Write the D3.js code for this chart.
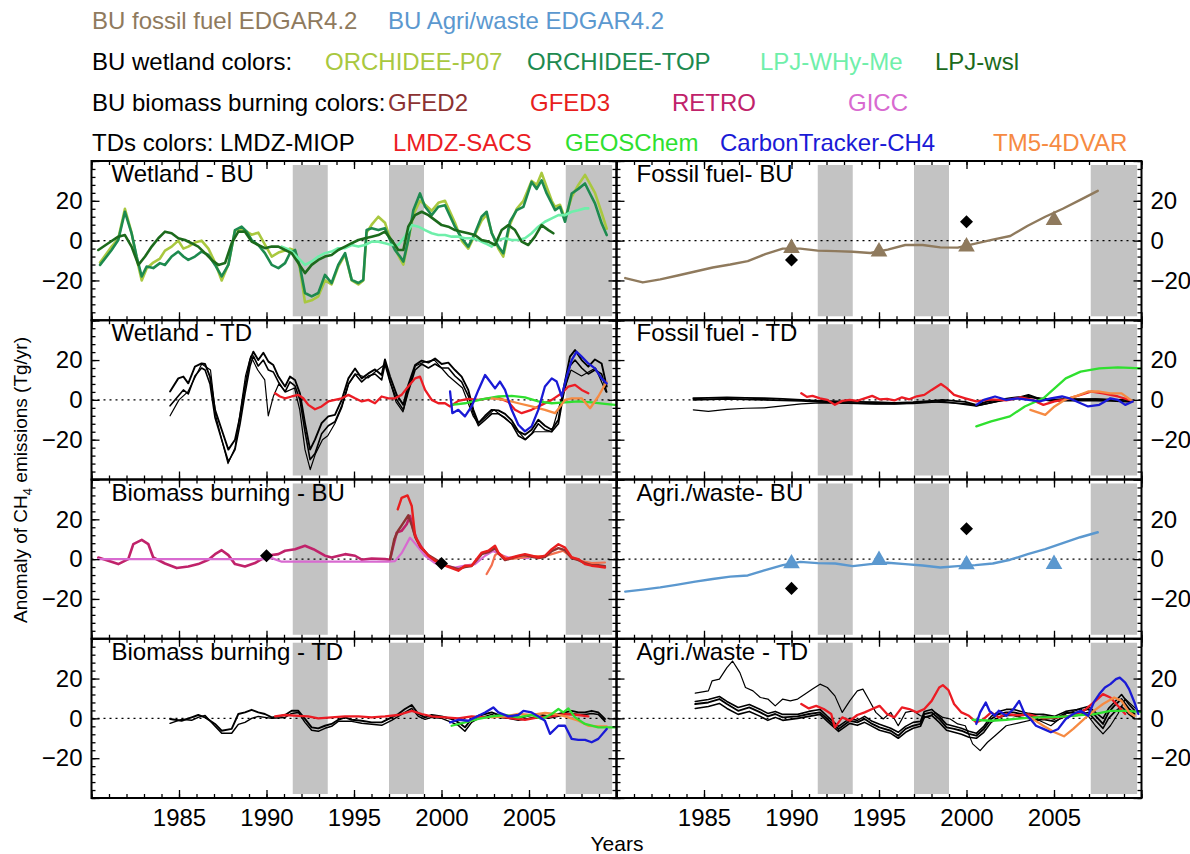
<!DOCTYPE html>
<html><head><meta charset="utf-8">
<script src="https://cdn.jsdelivr.net/npm/d3@7"></script>
<style>
body{margin:0;background:#fff}
svg{display:block;font-family:"Liberation Sans",Arial,Helvetica,sans-serif}
</style>
</head><body>
<svg id="chart" width="1190" height="854"></svg>
<script>
// ---------- data: [year, anomaly Tg/yr] ----------
// Wetland - BU
const wetBuP07 = [[1980.49,-11],[1981.15,-3],[1981.53,1],[1981.91,16],[1982.29,4],[1982.58,-9],[1982.87,-20],[1983.15,-14],[1983.53,-11],[1983.91,-9],[1984.2,-5],[1984.58,-3],[1984.96,0],[1985.25,-4],[1985.53,-3],[1985.91,-1],[1986.29,0],[1986.68,-4],[1987.06,-11],[1987.44,-20],[1987.82,-12],[1988.2,5],[1988.58,6],[1988.87,4.5],[1989.15,3],[1989.53,4],[1989.91,-2],[1990.3,-8],[1990.68,-6],[1991.06,-5],[1991.34,-4],[1991.63,-5],[1991.91,-14],[1992.2,-31],[1992.58,-30],[1992.96,-28],[1993.34,-20],[1993.72,-22],[1994.1,-13],[1994.49,-7],[1994.87,-20],[1995.25,-22],[1995.53,-20],[1995.72,4],[1996.01,8],[1996.39,12],[1996.77,9],[1997.06,1],[1997.34,-4],[1997.63,-9],[1997.82,-12],[1998.1,0],[1998.39,13],[1998.77,20],[1999.06,18],[1999.44,15],[1999.82,19],[2000.2,20],[2000.77,9],[2001.15,0],[2001.53,-4],[2001.91,3],[2002.29,10],[2002.58,13],[2002.87,4],[2003.25,-4],[2003.53,-8],[2003.91,8],[2004.3,16],[2004.68,20],[2005.15,30],[2005.44,28],[2005.72,34],[2006.01,27],[2006.3,20],[2006.49,17],[2006.77,18],[2007.06,11],[2007.44,22],[2007.82,28],[2008.2,33],[2008.39,30],[2008.77,24],[2009.15,14],[2009.44,6]];
const wetBuTop = [[1980.49,-12.2],[1981.15,-4.7],[1981.53,0.3],[1981.91,14.5],[1982.29,3.7],[1982.58,-8],[1982.87,-18],[1983.15,-13],[1983.53,-13.8],[1983.91,-11.3],[1984.2,-12.2],[1984.58,-8],[1984.96,-5.5],[1985.25,-8],[1985.53,-9.7],[1985.91,-8],[1986.29,-5.5],[1986.68,-7.2],[1987.06,-12.2],[1987.44,-18],[1987.82,-12.2],[1988.2,5.3],[1988.58,7],[1988.87,4.5],[1989.15,0.3],[1989.53,-2.2],[1989.91,-6.3],[1990.3,-12.2],[1990.68,-13.8],[1991.06,-11.3],[1991.34,-6.3],[1991.63,-4.7],[1991.91,-13],[1992.2,-26.3],[1992.58,-28],[1992.96,-26.3],[1993.34,-17.2],[1993.72,-21.3],[1994.1,-12.2],[1994.49,-6.3],[1994.87,-19.7],[1995.25,-21.3],[1995.53,-19.7],[1995.72,5.3],[1996.01,6.2],[1996.39,5.3],[1996.77,6.2],[1997.06,0.3],[1997.34,-4.7],[1997.63,-8],[1997.82,-10.5],[1998.1,0.3],[1998.39,15.3],[1998.77,23.7],[1999.06,17],[1999.44,12.8],[1999.82,17],[2000.2,17.8],[2000.77,7],[2001.15,1.2],[2001.53,-3],[2001.91,3.7],[2002.29,12],[2002.58,14.5],[2002.87,3.7],[2003.25,-3],[2003.53,-6.3],[2003.91,9.5],[2004.3,15.3],[2004.68,17],[2005.15,29.5],[2005.44,26],[2005.72,30.3],[2006.01,23.7],[2006.3,18.7],[2006.49,15.3],[2006.77,17],[2007.06,9.5],[2007.44,23.7],[2007.82,26],[2008.2,28.7],[2008.39,25.3],[2008.77,18.7],[2009.15,8.7],[2009.44,2.8]];
const wetBuWhyme = [[1990.87,-3],[1991.34,-4.7],[1991.82,-8.8],[1992.2,-12.2],[1992.58,-10.5],[1992.96,-8],[1993.34,-6.3],[1993.72,-5.5],[1994.1,-3.8],[1994.49,-3.8],[1994.87,-2.2],[1995.25,-3],[1995.63,-2.2],[1996.01,-0.5],[1996.39,-0.5],[1996.77,-1.3],[1997.15,-2.2],[1997.53,-2.2],[1997.91,2],[1998.3,7.8],[1998.68,7],[1999.06,5.3],[1999.44,3.7],[1999.82,2.8],[2000.2,2.8],[2000.58,2],[2000.96,2],[2001.34,1.2],[2001.72,1.2],[2002.11,0.3],[2002.49,-1.3],[2002.87,-3],[2003.25,0.3],[2003.63,1.2],[2004.01,0.3],[2004.39,0.3],[2004.77,1.2],[2005.15,3.7],[2005.53,7],[2005.91,9.5],[2006.3,11.2],[2006.68,12.8],[2007.06,12.8],[2007.44,14.5],[2007.82,15.3],[2008.2,16.2],[2008.39,16.2]];
const wetBuWsl = [[1980.39,-4.7],[1980.96,-1.3],[1981.53,2],[1981.91,2.8],[1982.29,-3],[1982.68,-12.2],[1983.06,-8],[1983.44,-3],[1983.82,1.2],[1984.2,4.5],[1984.58,3.7],[1984.96,1.2],[1985.34,0.3],[1985.72,-1.3],[1986.1,-3],[1986.49,-6.3],[1986.87,-9.7],[1987.25,-12.2],[1987.63,-11.3],[1988.01,-1.3],[1988.39,4.5],[1988.77,4.5],[1989.15,-0.5],[1989.53,-2.2],[1989.91,-3.8],[1990.3,-3],[1990.68,-3],[1991.06,-4.7],[1991.44,-6.3],[1991.82,-11.3],[1992.2,-16.3],[1992.58,-12.2],[1992.96,-9.7],[1993.34,-8],[1993.72,-7.2],[1994.1,-4.7],[1994.49,-3],[1994.87,-1.3],[1995.25,0.3],[1995.63,1.2],[1996.01,2],[1996.39,2.8],[1996.77,4.5],[1997.15,0.3],[1997.53,-4.7],[1997.82,-4.7],[1998.1,7],[1998.49,12.8],[1998.87,14.5],[1999.25,12.8],[1999.63,10.3],[2000.01,7.8],[2000.39,7],[2000.77,5.3],[2001.15,4.5],[2001.53,3.7],[2001.91,2.8],[2002.29,0.3],[2002.68,-0.5],[2003.06,-2.2],[2003.44,5.3],[2003.82,7.8],[2004.2,5.3],[2004.58,-0.5],[2004.96,-2.2],[2005.34,2],[2005.72,7.8],[2006.11,5.3],[2006.39,3.7]];

// EDGAR4.2 annual values, plotted at mid-year
const edgarYears = [1980.5,1981.5,1982.5,1983.5,1984.5,1985.5,1986.5,1987.5,1988.5,1989.5,1990.5,1991.5,1992.5,1993.5,1994.5,1995.5,1996.5,1997.5,1998.5,1999.5,2000.5,2001.5,2002.5,2003.5,2004.5,2005.5,2006.5,2007.5];
const edgarFossil = [-18.8,-21,-19.5,-17.5,-15.5,-13.5,-12,-10.3,-6.8,-4,-4,-5,-5.3,-5.6,-6.2,-4.5,-2.2,-2.2,-3.4,-3.5,-1.5,0.5,2.3,7.5,12,16,20.5,25];
const edgarAgri = [-16.3,-15.3,-14.2,-12.8,-11.3,-10,-8.8,-8.2,-5.5,-3,-1.4,-2,-2.2,-3.5,-2.5,-1.8,-2.5,-3.2,-4.2,-3.5,-3,-2.2,-0.3,2.5,5,8,11,13.5];
const fossilTriangles = [[1990,-3.8],[1995,-5.5],[2000,-3],[2005,10.3]];
const fossilDiamonds = [[1990,-9.7],[2000,9.5]];
const agriTriangles = [[1990,-2.2],[1995,-0.5],[2000,-2.7],[2005,-2.5]];
const agriDiamonds = [[1990,-14.7],[2000,15.3]];
const bbDiamonds = [[1990,1.7],[2000,-2.2]];

// Wetland - TD
const wetTdMiop1 = [[1984.49,4.2],[1984.96,10.8],[1985.25,11.7],[1985.53,8.3],[1985.91,16.7],[1986.29,18.3],[1986.49,18],[1986.77,11.7],[1987.06,-5],[1987.44,-15],[1987.82,-25],[1988.2,-20],[1988.49,-8.3],[1988.77,6.7],[1989.06,20],[1989.25,24.2],[1989.53,20],[1989.82,23.7],[1990.11,19.2],[1990.39,17.5],[1990.68,11.7],[1991.06,6.7],[1991.34,11.7],[1991.63,10],[1991.91,3.3],[1992.2,-11.7],[1992.49,-25],[1992.77,-20],[1993.15,-11.7],[1993.53,-8.3],[1993.91,-7.5],[1994.3,0],[1994.68,10.8],[1995.06,15.8],[1995.44,10.8],[1995.82,13.3],[1996.2,15.3],[1996.58,12.5],[1996.77,20.3],[1997.06,11.7],[1997.44,2.5],[1997.82,-2.5],[1998.1,7.5],[1998.49,17.5],[1998.87,19.7],[1999.25,18.7],[1999.63,20.8],[2000.01,18],[2000.39,18.7],[2000.77,15],[2001.15,11.7],[2001.53,5],[2001.82,-5],[2002.11,-11.7],[2002.49,-8],[2002.87,-5],[2003.25,-5.3],[2003.63,-7],[2004.01,-10.3],[2004.39,-15.8],[2004.77,-17.5],[2005.15,-15],[2005.53,-10],[2005.91,-13],[2006.3,-15],[2006.68,-10],[2006.96,5],[2007.34,21.7],[2007.63,25],[2008.01,20],[2008.39,16.7],[2008.77,20.3],[2009.15,18.3],[2009.44,6.7]];
const wetTdMiop2 = [[1984.49,-3],[1984.96,2],[1985.25,5],[1985.53,3],[1985.91,12],[1986.29,16],[1986.49,15],[1986.77,8],[1987.06,-9],[1987.44,-20],[1987.82,-31],[1988.2,-25],[1988.49,-12],[1988.77,3],[1989.06,17],[1989.25,22],[1989.53,17],[1989.82,20],[1990.11,15],[1990.39,14],[1990.68,9],[1991.06,4],[1991.34,9],[1991.63,7],[1991.91,0],[1992.2,-16],[1992.49,-30],[1992.77,-27],[1993.15,-17],[1993.53,-13],[1993.91,-11],[1994.3,-3],[1994.68,8],[1995.06,13],[1995.44,9],[1995.82,12],[1996.2,13],[1996.58,10],[1996.77,18],[1997.06,9],[1997.44,0],[1997.82,-5],[1998.1,4],[1998.49,15],[1998.87,18],[1999.25,16],[1999.63,18],[2000.01,16],[2000.39,16],[2000.77,12],[2001.15,9],[2001.53,2],[2001.82,-7],[2002.11,-13],[2002.49,-10],[2002.87,-7],[2003.25,-7],[2003.63,-9],[2004.01,-12],[2004.39,-18],[2004.77,-20],[2005.15,-17],[2005.53,-12],[2005.91,-15],[2006.3,-16],[2006.68,-12],[2006.96,2],[2007.34,17],[2007.63,20],[2008.01,16],[2008.39,13],[2008.77,15],[2009.15,13],[2009.44,4]];
const wetTdMiop3 = [[1984.49,-8],[1985,0],[1985.5,4],[1986.3,18],[1986.8,15],[1987.1,-8],[1987.5,-22],[1987.8,-32],[1988.2,-24],[1988.5,-6],[1988.8,12],[1989.1,22],[1989.5,15],[1989.9,10],[1990.1,-8],[1990.4,2],[1990.7,8],[1991.1,4],[1991.6,6],[1991.9,-5],[1992.2,-25],[1992.5,-35],[1992.8,-27],[1993.2,-20],[1993.5,-18],[1993.9,-12],[1994.3,-4],[1994.7,8],[1995.1,13],[1995.8,11],[1996.2,14],[1996.8,18],[1997.1,8],[1997.4,-1],[1997.8,-6],[1998.1,5],[1998.5,17],[1999,19],[1999.6,20],[2000.4,12],[2001.2,6],[2001.8,-8],[2002.1,-12],[2003,-5],[2004,-12],[2004.8,-20],[2005.3,-16],[2006.3,-16],[2006.9,2],[2007.4,15],[2008,12],[2008.8,16],[2009.4,4]];
const wetTdSacs = [[1990.49,3.3],[1990.77,1.7],[1991.06,0.8],[1991.44,1.7],[1991.82,2.5],[1992.1,0.8],[1992.39,-2.5],[1992.77,-4.7],[1993.15,-3.3],[1993.53,-0.8],[1993.91,0],[1994.3,0.8],[1994.68,2.5],[1995.06,0.8],[1995.44,-0.8],[1995.82,0],[1996.2,-1.7],[1996.58,1.7],[1996.96,0.8],[1997.34,0.8],[1997.72,2.5],[1998.1,6.7],[1998.49,10.8],[1998.77,11.7],[1999.06,5],[1999.44,0],[1999.82,-1.7],[2000.2,-1.7],[2000.49,-3.3],[2000.96,-0.5],[2001.53,0.5],[2002.11,0],[2002.68,0.8],[2003.25,1],[2003.82,-1],[2004.2,-5],[2004.58,-6.7],[2005.15,-5],[2005.72,-2.5],[2006.3,0],[2006.87,3.3],[2007.25,6.7],[2007.63,7.5],[2008.01,5],[2008.39,3.3]];
const wetTdCt = [[2000.49,4.2],[2000.62,-6.7],[2000.96,-5],[2001.34,-8.3],[2001.72,-3.3],[2002.11,5],[2002.49,12.5],[2002.77,9.2],[2003.06,5.8],[2003.34,9.2],[2003.63,5],[2004.01,-5],[2004.39,-12.5],[2004.77,-15.8],[2005.15,-13.3],[2005.53,-5],[2005.91,6.7],[2006.3,10.8],[2006.58,9.2],[2006.87,1.7],[2007.15,11.7],[2007.44,20],[2007.72,24.2],[2008.01,21.7],[2008.39,18.3],[2008.77,15.8],[2009.15,10.8],[2009.44,8.3]];
const wetTdGeos = [[2000.58,-2.5],[2001.34,-1.7],[2002.3,0.3],[2003.25,1.7],[2004.01,2],[2004.77,1.3],[2005.53,-0.8],[2006.3,-1.7],[2007.06,-1.3],[2007.82,-0.8],[2008.58,-1.3],[2009.34,-2],[2009.91,-2.5]];
const wetTdTm5 = [[2002.87,0.8],[2003.63,0],[2004.39,-1.7],[2005.15,-3.3],[2005.91,-5],[2006.49,-6.7],[2007.06,0],[2007.44,0.8],[2008.01,0.8],[2008.49,-4.2],[2008.96,1.7],[2009.44,9.2]];

// Biomass burning - BU
const bbRetro = [[1980.39,0.8],[1980.96,-0.8],[1981.53,-2.5],[1982.1,0],[1982.39,7.5],[1982.87,9.7],[1983.25,7.5],[1983.53,0.8],[1984.2,-2.2],[1984.87,-4.5],[1985.53,-3.7],[1986.1,-2.5],[1986.68,-0.3],[1987.06,2.5],[1987.44,4.5],[1987.82,2],[1988.2,-2.5],[1988.77,-3.7],[1989.34,-2],[1989.72,0],[1990.01,1.7],[1990.68,2.5],[1991.06,4.2],[1991.63,5],[1992.2,6.7],[1992.68,5],[1993.34,1.7],[1993.72,0.8],[1994.49,2.5],[1995.06,1.7],[1995.44,-0.3],[1996.01,0.3],[1996.77,0],[1997.06,-0.3],[1997.25,6.7],[1997.44,13.3],[1997.72,14.2],[1998.01,17.5],[1998.2,21.7],[1998.39,15],[1998.58,10],[1998.87,5.8],[1999.25,1.7],[1999.63,-0.8],[2000.01,-2]];
const bbGicc = [[1980.39,0],[1989.91,0],[1990.3,0.5],[1990.87,-1.3],[1996.96,-1.3],[1997.34,-1],[1997.72,3],[1998.2,10.8],[1998.58,7],[1999.06,1.7],[1999.63,-2],[2000.2,-3.3],[2000.77,-4.2],[2001.34,-3.3],[2001.91,-2.5],[2002.49,1.7],[2002.96,4.2],[2003.25,2.5],[2003.82,0.8],[2004.39,0.8],[2004.96,0.5]];
const bbGfed2 = [[1997.06,0],[1997.3,10],[1997.5,14],[1997.8,18],[1998.1,22],[1998.3,17],[1998.5,11],[1998.8,6],[1999.25,2],[1999.63,0],[2000.2,-3],[2000.96,-5],[2001.34,-4],[2001.72,-3.5],[2002.3,2.5],[2002.68,3.5],[2003.06,5.5],[2003.25,3],[2003.63,-0.5],[2004.01,0.5],[2004.39,1.5],[2004.77,2],[2005.15,1.2],[2005.53,0.5],[2005.91,1],[2006.3,4],[2006.68,5.5],[2007.06,4.5],[2007.44,0.5],[2007.82,-0.5],[2008.2,-2],[2008.58,-3],[2008.96,-3],[2009.34,-3.5]];
const bbGfed3 = [[1997.5,25],[1997.72,30.8],[1998.06,32],[1998.3,26.7],[1998.49,11.7],[1998.77,6.7],[1999.25,1.7],[1999.63,-0.8],[2000.2,-3.3],[2000.96,-5.8],[2001.34,-3.3],[2001.72,-3.3],[2002.3,3.3],[2002.68,4.2],[2003.06,6.7],[2003.25,3.3],[2003.63,0],[2004.01,0.8],[2004.39,1.7],[2004.77,2.5],[2005.15,1.7],[2005.53,0.8],[2005.91,1.7],[2006.3,5],[2006.68,7.5],[2007.06,5.8],[2007.44,0.8],[2007.82,0],[2008.2,-2.5],[2008.58,-3.3],[2008.96,-3.7],[2009.34,-4.2]];
const bbLate = [[2002.58,-7.5],[2002.87,-3],[2003.06,2],[2003.25,3],[2003.82,0],[2004.39,0.5],[2005.15,1.5],[2005.91,1.5],[2006.49,3],[2006.96,4.2],[2007.44,1],[2008.01,-1],[2008.58,-2],[2009.34,-1.7]];

// Biomass burning - TD
const bbTdMiop1 = [[1984.49,-0.3],[1985.15,-1.2],[1985.72,0.5],[1986.1,1.7],[1986.49,0.5],[1987.06,-2.8],[1987.44,-6.2],[1988.01,-5.3],[1988.39,2.2],[1988.77,3],[1989.15,4.3],[1989.53,3],[1989.91,2.2],[1990.3,0.5],[1990.68,1],[1991.06,1.7],[1991.44,3.8],[1991.82,3.8],[1992.2,-0.3],[1992.58,-4.5],[1992.96,-5],[1993.34,-3.7],[1993.72,-2.8],[1994.1,-0.7],[1994.49,0.5],[1994.87,-0.7],[1995.44,-1.2],[1996.01,-2],[1996.58,-2],[1997.15,0.5],[1997.53,2.2],[1997.91,4.7],[1998.3,6.7],[1998.68,2.2],[1999.06,0.5],[1999.44,1.7],[2000.01,1],[2000.58,-0.3],[2000.96,-2],[2001.34,-4.5],[2001.72,-0.3],[2002.11,1.3],[2002.49,2.2],[2002.87,3],[2003.25,1.7],[2003.82,1],[2004.39,0],[2004.96,1.3],[2005.53,2.2],[2006.11,1],[2006.68,2.2],[2007.06,3],[2007.44,3.8],[2007.82,3],[2008.2,3],[2008.58,3.8],[2008.96,3],[2009.34,-0.3]];
const bbTdMiop2 = [[1984.49,-2.5],[1985.15,-0.5],[1985.72,-1],[1986.1,0.5],[1986.49,1.5],[1987.06,-4],[1987.44,-7.5],[1988.01,-7.5],[1988.39,-3],[1988.77,-2],[1989.15,0],[1989.53,1],[1989.91,0.5],[1990.3,0],[1991.06,0.5],[1991.44,2.5],[1991.82,3],[1992.2,-2],[1992.58,-6],[1992.96,-6.5],[1993.34,-5],[1993.72,-4],[1994.1,-1.5],[1994.87,-1.5],[1995.44,-2.5],[1996.01,-3],[1996.58,-3.5],[1997.15,-1],[1997.53,1],[1997.91,3],[1998.3,5],[1998.68,1],[1999.06,-0.5],[1999.44,0.5],[2000.01,0],[2000.58,-2],[2000.96,-3.5],[2001.34,-6.5],[2001.72,-2],[2002.11,0],[2002.49,1],[2002.87,2],[2003.25,0.5],[2003.82,0],[2004.39,-1],[2004.96,0],[2005.53,1],[2006.11,0],[2006.68,1],[2007.06,2],[2007.44,2.5],[2007.82,2],[2008.2,2],[2008.58,2.5],[2008.96,2],[2009.34,-1.5]];
const bbTdSacs = [[1990.49,1],[1991.06,1.7],[1991.82,1.3],[1992.39,1],[1992.96,0],[1993.72,0.5],[1994.49,1],[1995.25,1],[1996.01,0.5],[1996.77,1],[1997.53,1.7],[1998.3,3.8],[1998.87,2.2],[1999.44,1],[2000.2,0.5],[2000.96,0],[2001.72,1],[2002.49,0.5],[2003.25,1],[2004.01,0],[2004.77,-0.7],[2005.53,0.5],[2006.3,1],[2007.06,2.2],[2007.82,1.7],[2008.39,1]];
const bbTdCt = [[2000.49,-2],[2000.96,-0.7],[2001.53,-1.2],[2002.11,1.3],[2002.49,3],[2002.96,5.5],[2003.25,3],[2003.82,1],[2004.39,1.7],[2004.68,3.8],[2005.15,3],[2005.53,1],[2005.91,-1.2],[2006.2,-7.8],[2006.68,-3.7],[2007.06,-3.7],[2007.44,-10.3],[2007.82,-10.8],[2008.2,-10.8],[2008.58,-12],[2008.96,-10.3],[2009.44,-5.3]];
const bbTdGeos = [[2000.58,-3.7],[2001.34,-2],[2002.11,-0.3],[2002.87,1],[2003.63,1.7],[2004.39,0.5],[2005.15,1.7],[2005.72,-0.3],[2006.3,2.2],[2006.68,4.7],[2006.96,3],[2007.25,5],[2007.63,0.5],[2008.2,-2.8],[2008.96,-4.5],[2009.91,-4.5]];
const bbTdTm5 = [[2002.87,0.5],[2003.63,1],[2004.39,2.2],[2005.15,1.7],[2005.91,2.7],[2006.49,2.2],[2007.06,1],[2007.82,-1.2],[2008.39,-3.7],[2008.96,-4],[2009.44,-4]];

// Fossil fuel - TD
const ffTdMiop1 = [[1984.39,0.8],[1985.25,1],[1986.31,1.2],[1987.37,1],[1988.44,0.8],[1989.5,0.5],[1990.56,0],[1991.63,-0.5],[1992.69,-0.8],[1993.76,-1],[1994.82,-1.2],[1995.88,-1.5],[1996.95,-1.2],[1998.01,-0.5],[1998.65,0],[1999.29,-0.5],[1999.93,-1],[2000.56,-2.5],[2001.2,-0.8],[2001.84,0],[2002.48,0.8],[2003.12,1.5],[2003.54,2.5],[2004.18,0.5],[2004.82,0],[2005.67,0.5],[2006.52,0.3],[2007.37,0.3],[2008.22,0],[2009.07,0],[2009.5,-0.5]];
const ffTdMiop2 = [[1984.39,0],[1986.31,0.5],[1988.44,0],[1990.56,-0.5],[1992.69,-1.5],[1994.82,-2],[1996.95,-1.8],[1998.65,-0.8],[2000.56,-3],[2001.84,-0.5],[2003.54,1.5],[2004.82,-0.5],[2006.52,-0.3],[2008.22,-0.5],[2009.5,-1]];
const ffTdMiop3 = [[1984.39,-5],[1985.25,-5.8],[1986.31,-4.8],[1987.37,-4.2],[1988.44,-4],[1989.5,-3],[1990.56,-2],[1991.63,-1.5],[1993.76,-1.8],[1995.88,-2.2],[1998.01,-1],[2000.14,-2],[2000.56,-3],[2002.27,0],[2003.54,1.5],[2005.24,0],[2007.37,0.5],[2009.5,-0.3]];
const ffTdSacs = [[1990.56,3.3],[1990.88,1.5],[1991.2,2],[1991.63,0.8],[1992.05,0],[1992.48,-2.5],[1992.9,-0.5],[1993.33,0],[1993.76,-0.5],[1994.18,0.8],[1994.61,2],[1995.03,0.3],[1995.46,0.5],[1995.88,-0.3],[1996.31,1.3],[1996.73,0.3],[1997.16,1.8],[1997.59,2.5],[1998.01,5],[1998.54,8],[1998.86,6],[1999.29,2.5],[1999.93,0.8],[2000.56,-0.8],[2001.41,0.3],[2002.27,-0.3],[2003.12,1.3],[2003.76,0],[2004.39,-2.5],[2005.03,-0.8],[2005.67,0.3],[2006.52,2.5],[2007.16,4.2],[2007.8,3.3],[2008.65,1.7],[2009.29,0]];
const ffTdCt = [[2000.56,-2.5],[2000.99,0],[2001.63,1.7],[2002.27,0],[2002.91,0.8],[2003.54,0],[2004.18,-0.8],[2004.82,0.8],[2005.46,1.7],[2005.88,0.8],[2006.52,-1.7],[2006.95,-3.3],[2007.59,-2.5],[2008.22,0.8],[2008.65,0],[2009.07,-2.5],[2009.5,-0.8]];
const ffTdGeos = [[2000.56,-13.3],[2001.41,-10.8],[2002.48,-8.3],[2003.33,-3.3],[2004.39,0.8],[2005.03,5.8],[2005.67,10.8],[2006.52,14.2],[2007.59,15.8],[2008.65,16.3],[2010,15.8]];
const ffTdTm5 = [[2003.65,-5],[2004.5,-7.5],[2005.03,-3.3],[2005.67,0.3],[2006.31,2],[2006.95,4.2],[2007.59,4.2],[2008.22,3.3],[2008.86,3.3],[2009.5,-0.8]];

// Agri./waste - TD
const agTdMiop1 = [[1984.5,12.7],[1985.25,13.8],[1985.46,18.8],[1985.88,19.7],[1986.31,25.5],[1986.63,28.8],[1987.05,23],[1987.37,15.5],[1987.8,13.8],[1988.22,10.5],[1988.65,9.7],[1989.07,6.3],[1989.5,9.7],[1989.93,8.8],[1990.35,9.7],[1990.78,12.2],[1991.2,14.7],[1991.63,17.2],[1992.05,15.5],[1992.48,11.3],[1992.9,3],[1993.33,8.8],[1993.76,13.8],[1994.08,14.7],[1994.4,9.7],[1994.82,3],[1995.24,-0.3],[1995.67,3],[1996.1,-3.7],[1996.52,3],[1996.95,3.8],[1997.37,1.3],[1997.8,0.5],[1998.22,3],[1998.65,0.5],[1999.07,-0.3],[1999.5,-2.8],[1999.93,-3.7],[2000.35,-12.8],[2000.78,-16.2],[2001.2,-12],[2001.63,-8.7],[2002.27,-3.7],[2003.12,-2],[2003.97,-0.3],[2004.82,-3.7],[2005.67,2.2],[2006.52,4.7],[2006.95,1.3],[2007.37,-3.7],[2007.8,-7.8],[2008.22,-3.7],[2008.65,2.2],[2009.07,9.7],[2009.5,6.3],[2009.92,3]];
const agTdMiop2 = [[1984.5,7.2],[1985.25,8],[1985.88,9.7],[1986.31,7.2],[1986.95,3.8],[1987.59,5.5],[1988.22,3],[1988.65,1],[1989.07,2.2],[1989.5,0.5],[1990.35,1],[1990.99,2.2],[1991.63,3],[1992.05,-0.3],[1992.69,-5.3],[1993.33,-1.2],[1993.76,-2],[1994.18,-0.3],[1994.61,-2.8],[1995.03,-4.5],[1995.67,-6.2],[1996.1,-8.7],[1996.52,-5.3],[1996.95,-3.7],[1997.37,-2.8],[1997.59,2.2],[1998.01,3],[1998.44,-0.3],[1998.86,-4.5],[1999.29,-5.3],[1999.71,-6.2],[2000.14,-7.8],[2000.56,-8.7],[2000.99,-5.3],[2001.41,-0.3],[2001.84,2.2],[2002.27,3],[2002.69,3],[2003.12,2.2],[2003.54,1.3],[2003.97,0.5],[2004.39,1],[2005.03,-0.3],[2005.67,2.7],[2006.31,3],[2006.95,4.7],[2007.37,1.3],[2007.8,-2.8],[2008.12,3],[2008.44,6.3],[2008.86,9.7],[2009.29,4.7],[2009.6,2.2]];
const agTdMiop3 = [[1984.5,5],[1985.25,6],[1985.88,7.5],[1986.31,5],[1986.95,2],[1987.59,3.5],[1988.22,1],[1988.65,-1],[1989.07,0.5],[1989.5,-1],[1990.35,0],[1990.99,1],[1991.63,2],[1992.05,-1.5],[1992.69,-6.5],[1993.33,-2.5],[1993.76,-3.5],[1994.18,-2],[1994.61,-4],[1995.03,-6],[1995.67,-7.5],[1996.1,-10],[1996.52,-7],[1996.95,-5],[1997.37,-4],[1997.59,0.5],[1998.01,1.5],[1998.44,-2],[1998.86,-6],[1999.29,-7],[1999.71,-8],[2000.14,-9.5],[2000.56,-10],[2000.99,-7],[2001.41,-2],[2001.84,0.5],[2002.27,1.5],[2002.69,1.5],[2003.12,0.5],[2003.54,0],[2003.97,-1],[2004.39,-0.5],[2005.03,-1.5],[2005.67,1],[2006.31,1.5],[2006.95,3],[2007.37,-1],[2007.8,-5],[2008.12,0],[2008.44,3],[2008.86,6],[2009.29,2],[2009.6,0]];
const agTdMiop4 = [[1984.5,8.5],[1985.25,9.5],[1985.88,11],[1986.31,8.5],[1986.95,5.5],[1987.59,7],[1988.22,4.5],[1988.65,2.5],[1989.07,3.5],[1989.5,2],[1990.35,2],[1990.99,3.5],[1991.63,4.5],[1992.05,1],[1992.69,-4],[1993.33,0],[1993.76,-1],[1994.18,1],[1994.61,-1.5],[1995.03,-3],[1995.67,-5],[1996.1,-7],[1996.52,-4],[1996.95,-2],[1997.37,-1.5],[1997.59,3.5],[1998.01,4.5],[1998.44,1],[1998.86,-3],[1999.29,-4],[1999.71,-5],[2000.14,-6.5],[2000.56,-7.5],[2000.99,-4],[2001.41,1],[2001.84,3.5],[2002.27,4.5],[2002.69,4.5],[2003.12,3.5],[2003.54,2.5],[2003.97,2],[2004.39,2],[2005.03,1],[2005.67,3.5],[2006.31,4.5],[2006.95,6],[2007.37,3],[2007.8,0],[2008.12,5],[2008.44,8],[2008.86,12],[2009.29,7],[2009.6,4]];
const agTdSacs = [[1990.56,7.2],[1990.99,5],[1991.41,6.3],[1991.84,4.7],[1992.27,2.2],[1992.48,-4.5],[1992.9,0.5],[1993.33,-1.2],[1993.76,1.7],[1994.18,3],[1994.61,4.7],[1995.03,6.3],[1995.46,2.2],[1995.88,0.5],[1996.31,5.5],[1996.73,4.7],[1997.16,3],[1997.59,4.7],[1998.01,8.8],[1998.44,15.5],[1998.65,16.7],[1998.97,14.2],[1999.29,7.2],[1999.71,3],[2000.14,1.3],[2000.56,-2],[2000.99,-0.3],[2001.41,3],[2001.84,0.5],[2002.27,2.2],[2002.91,1.5],[2003.54,2],[2004.39,0],[2005.24,0.5],[2006.09,1.5],[2006.73,4],[2007.37,8.8],[2007.8,12.2],[2008.22,10.5],[2008.65,6.3],[2009.07,2.2]];
const agTdCt = [[2000.56,-2.8],[2000.78,3],[2001.1,8],[2001.31,3.8],[2001.63,1.3],[2001.84,3.8],[2002.27,1.3],[2002.69,4.7],[2003.01,8.8],[2003.33,2.2],[2003.65,-0.3],[2003.97,-3.7],[2004.39,-5.3],[2004.82,-7],[2005.24,-5.3],[2005.67,-0.3],[2006.1,2.2],[2006.52,3.8],[2006.95,1.3],[2007.27,8],[2007.59,12.2],[2007.91,15.5],[2008.22,17.2],[2008.54,19.7],[2008.76,20.5],[2009.07,18],[2009.29,14.7],[2009.6,8],[2009.82,2.2]];
const agTdGeos = [[2000.35,-0.7],[2001.41,-1.2],[2002.27,-0.7],[2003.12,0],[2003.97,0.5],[2004.82,0.5],[2005.67,1],[2006.52,1.7],[2007.37,2.2],[2008.22,3.8],[2009.07,3.8],[2010,3.3]];
const agTdTm5 = [[2003.54,1],[2004.39,-3.7],[2005.03,-7],[2005.57,-9],[2006.1,-5.3],[2006.73,-0.3],[2007.16,3],[2007.8,7.2],[2008.44,10.5],[2008.86,8.8],[2009.29,3],[2009.6,1.3]];

// shaded periods (Pinatubo, El Nino 1997-98, 2007 onwards)
const shadedPeriods = [[1991.5,1993.5],[1997,1999],[2007.1,2009.75]];
const xMajorTicks = [1985,1990,1995,2000,2005];
const yTickLabels = [-20,0,20];

// legend text
const legendRows = [
  [["BU fossil fuel EDGAR4.2","#8f7a5d"],["BU Agri/waste EDGAR4.2","#5b98cf"]],
  [["BU wetland colors:","#000"],["ORCHIDEE-P07","#a9c83f"],["ORCHIDEE-TOP","#1d8a4f"],["LPJ-WHy-Me","#6fefaa"],["LPJ-wsl","#1c6a1c"]],
  [["BU biomass burning colors:","#000"],["GFED2","#8c3232"],["GFED3","#e81e1e"],["RETRO","#c0226a"],["GICC","#d86ad0"]],
  [["TDs colors: LMDZ-MIOP","#000"],["LMDZ-SACS","#ec1c24"],["GEOSChem","#2fe02f"],["CarbonTracker-CH4","#1a1ad6"],["TM5-4DVAR","#f68a42"]]
];

// ---------- layout ----------
const col = { orchP07:"#a9c83f", orchTop:"#1d8a4f", whyme:"#6fefaa", wsl:"#1c6a1c",
  gfed2:"#8c3232", gfed3:"#e81e1e", retro:"#c0226a", gicc:"#d86ad0", late:"#f3704f",
  miop:"#000", sacs:"#ec1c24", geos:"#2fe02f", ct:"#1a1ad6", tm5:"#f68a42",
  edFossil:"#8f7a5d", edAgri:"#5b98cf" };

const legendX = [[92,388],[92,325,527,760,935],[92,388,530,672,848],[92,393,565,720,993]];
const legendY = [29,70,111,151];
const colX = [[91.5,616.5],[616.5,1141.5]];
const rowTop = 161, rowH = 159.25;

const edgar = vals => edgarYears.map((y,i)=>[y,vals[i]]);

const panels = [
  {r:0,c:0,title:"Wetland - BU", series:[
    {d:wetBuP07,k:col.orchP07,w:2.6},{d:wetBuTop,k:col.orchTop,w:2.6},
    {d:wetBuWhyme,k:col.whyme,w:2.6},{d:wetBuWsl,k:col.wsl,w:2.6}]},
  {r:0,c:1,title:"Fossil fuel- BU", series:[{d:edgar(edgarFossil),k:col.edFossil,w:2.4}],
    tri:fossilTriangles, triK:col.edFossil, dia:fossilDiamonds},
  {r:1,c:0,title:"Wetland - TD", series:[
    {d:wetTdMiop3,k:"#000",w:1.2},{d:wetTdMiop2,k:"#000",w:1.6},{d:wetTdMiop1,k:"#000",w:1.9},
    {d:wetTdSacs,k:col.sacs,w:2.3},{d:wetTdGeos,k:col.geos,w:2.3},{d:wetTdTm5,k:col.tm5,w:2.3},{d:wetTdCt,k:col.ct,w:2.3}]},
  {r:1,c:1,title:"Fossil fuel - TD", series:[
    {d:ffTdMiop3,k:"#000",w:1.2},{d:ffTdMiop2,k:"#000",w:1.6},{d:ffTdMiop1,k:"#000",w:1.9},
    {d:ffTdSacs,k:col.sacs,w:2.3},{d:ffTdGeos,k:col.geos,w:2.3},{d:ffTdTm5,k:col.tm5,w:2.3},{d:ffTdCt,k:col.ct,w:2.3}]},
  {r:2,c:0,title:"Biomass burning - BU", series:[
    {d:bbRetro,k:col.retro,w:2.6},{d:bbGicc,k:col.gicc,w:2.2},{d:bbLate,k:col.late,w:2.2},
    {d:bbGfed2,k:col.gfed2,w:2.4},{d:bbGfed3,k:col.gfed3,w:2.4}],
    dia:bbDiamonds},
  {r:2,c:1,title:"Agri./waste- BU", series:[{d:edgar(edgarAgri),k:col.edAgri,w:2.4}],
    tri:agriTriangles, triK:col.edAgri, dia:agriDiamonds},
  {r:3,c:0,title:"Biomass burning - TD", series:[
    {d:bbTdMiop2,k:"#000",w:1.5},{d:bbTdMiop1,k:"#000",w:1.9},
    {d:bbTdSacs,k:col.sacs,w:2.3},{d:bbTdTm5,k:col.tm5,w:2.3},{d:bbTdGeos,k:col.geos,w:2.3},{d:bbTdCt,k:col.ct,w:2.3}]},
  {r:3,c:1,title:"Agri./waste - TD", series:[
    {d:agTdMiop1,k:"#000",w:1.2},{d:agTdMiop3,k:"#000",w:1.6},{d:agTdMiop4,k:"#000",w:1.6},{d:agTdMiop2,k:"#000",w:1.9},
    {d:agTdSacs,k:col.sacs,w:2.3},{d:agTdGeos,k:col.geos,w:2.3},{d:agTdTm5,k:col.tm5,w:2.3},{d:agTdCt,k:col.ct,w:2.3}]}
];

const svg = d3.select("#chart");

// legend
legendRows.forEach((row,ri)=>{
  row.forEach(([t,k],i)=>{
    svg.append("text").attr("x",legendX[ri][i]).attr("y",legendY[ri])
      .attr("font-size",24).attr("fill",k).text(t);
  });
});

const xMinor = d3.range(1980,2011,1);
const yMinor = d3.range(-40,41,4);
const yMajor = [-40,-20,0,20,40];
const xMaj = d3.range(1980,2011,5);

panels.forEach((p,pi)=>{
  const [x0,x1] = colX[p.c];
  const y0 = rowTop + p.r*rowH, y1 = y0 + rowH;
  const x = d3.scaleLinear().domain([1980,2010]).range([x0,x1]);
  const y = d3.scaleLinear().domain([-40,40]).range([y1,y0]);
  const g = svg.append("g");

  const clipId = "clip"+pi;
  svg.append("clipPath").attr("id",clipId).append("rect")
    .attr("x",x0).attr("y",y0).attr("width",x1-x0).attr("height",y1-y0);

  // shaded periods
  g.selectAll("rect.band").data(shadedPeriods).join("rect").attr("class","band")
    .attr("x",d=>x(d[0])).attr("width",d=>x(d[1])-x(d[0]))
    .attr("y",y(38)).attr("height",y(-38)-y(38)).attr("fill","#c3c3c3");

  // zero line
  g.append("line").attr("x1",x0).attr("x2",x1).attr("y1",y(0)).attr("y2",y(0))
    .attr("stroke","#000").attr("stroke-width",1.2).attr("stroke-dasharray","2,4");

  // series
  const line = d3.line().x(d=>x(d[0])).y(d=>y(d[1]));
  const lg = g.append("g").attr("clip-path",`url(#${clipId})`);
  p.series.forEach(s=>{
    lg.append("path").attr("d",line(s.d)).attr("fill","none")
      .attr("stroke",s.k).attr("stroke-width",s.w)
      .attr("stroke-linejoin","round").attr("stroke-linecap","round");
  });

  if (p.tri) {
    g.selectAll("path.tri").data(p.tri).join("path").attr("class","tri")
      .attr("d",d3.symbol(d3.symbolTriangle,120))
      .attr("transform",d=>`translate(${x(d[0])},${y(d[1])})`).attr("fill",p.triK);
  }
  if (p.dia) {
    // square turned 45 degrees
    g.selectAll("path.dia").data(p.dia).join("path").attr("class","dia")
      .attr("d",d3.symbol(d3.symbolSquare,85))
      .attr("transform",d=>`translate(${x(d[0])},${y(d[1])}) rotate(45)`).attr("fill","#000");
  }

  // panel title
  g.append("text").attr("x",x0+20).attr("y",y0+21).attr("font-size",24).text(p.title);

  // inward ticks on all four sides
  const axes = g.append("g");
  const tick = sel => sel.call(a=>a.select(".domain").remove())
      .call(a=>a.selectAll(".tick line").attr("stroke","#000").attr("stroke-width",1.3))
      .call(a=>a.selectAll(".tick text").remove());
  [[d3.axisBottom,y1],[d3.axisTop,y0]].forEach(([ax,yy])=>{
    axes.append("g").attr("transform",`translate(0,${yy})`)
      .call(ax(x).tickValues(xMinor).tickSize(-4).tickFormat("")).call(tick);
    axes.append("g").attr("transform",`translate(0,${yy})`)
      .call(ax(x).tickValues(xMaj).tickSize(-8).tickFormat("")).call(tick);
  });
  [[d3.axisLeft,x0],[d3.axisRight,x1]].forEach(([ax,xx])=>{
    axes.append("g").attr("transform",`translate(${xx},0)`)
      .call(ax(y).tickValues(yMinor).tickSize(-4).tickFormat("")).call(tick);
    axes.append("g").attr("transform",`translate(${xx},0)`)
      .call(ax(y).tickValues(yMajor).tickSize(-8).tickFormat("")).call(tick);
  });

  // border
  g.append("rect").attr("x",x0).attr("y",y0).attr("width",x1-x0).attr("height",y1-y0)
    .attr("fill","none").attr("stroke","#000").attr("stroke-width",2);

  // y tick labels
  const yl = p.c===0 ? d3.axisLeft(y) : d3.axisRight(y);
  g.append("g").attr("transform",`translate(${p.c===0?x0:x1},0)`)
    .call(yl.tickValues(yTickLabels).tickSize(0).tickPadding(9).tickFormat(d3.format("d")))
    .call(a=>a.select(".domain").remove())
    .call(a=>a.selectAll("text").attr("font-size",24).attr("font-family","inherit").attr("fill","#000"));

  // x tick labels on the bottom row
  if (p.r===3) {
    g.append("g").attr("transform",`translate(0,${y1})`)
      .call(d3.axisBottom(x).tickValues(xMajorTicks).tickSize(0).tickPadding(11).tickFormat(d3.format("d")))
      .call(a=>a.select(".domain").remove())
      .call(a=>a.selectAll("text").attr("font-size",24).attr("font-family","inherit").attr("fill","#000"));
  }
});

// axis titles
svg.append("text").attr("x",617).attr("y",851).attr("text-anchor","middle")
  .attr("font-size",21).text("Years");
const yt = svg.append("text").attr("transform","translate(27,480) rotate(-90)")
  .attr("text-anchor","middle").attr("font-size",19);
yt.append("tspan").text("Anomaly of CH");
yt.append("tspan").attr("font-size",13).attr("dy",5).text("4");
yt.append("tspan").attr("dy",-5).text(" emissions (Tg/yr)");
</script>
</body></html>
